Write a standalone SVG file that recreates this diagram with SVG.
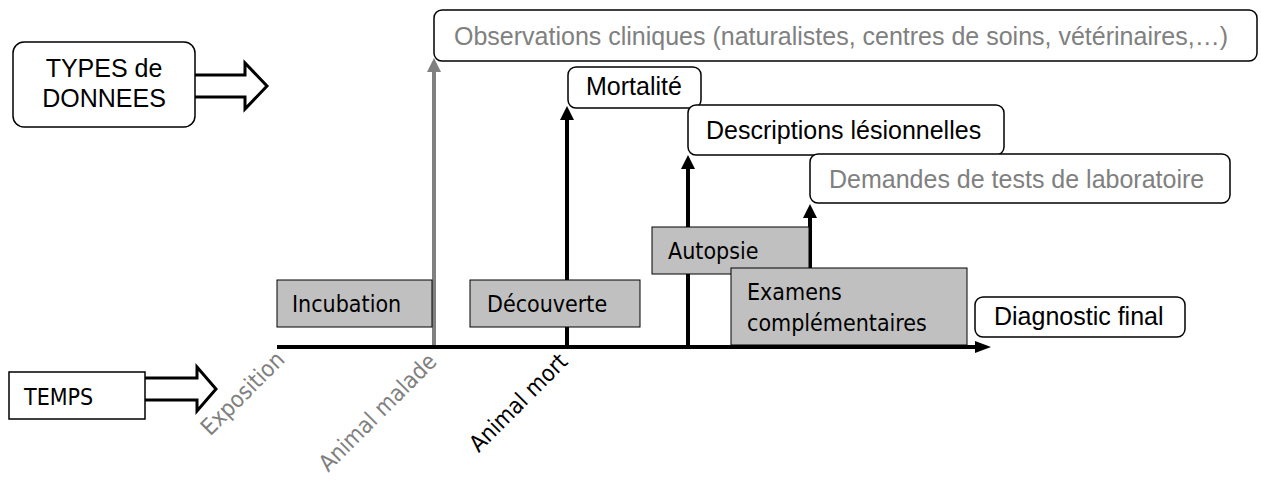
<svg xmlns="http://www.w3.org/2000/svg" width="1261" height="487" viewBox="0 0 1261 487">
<style>
.rbox{fill:#fff;stroke:#000;stroke-width:1.5}
.gbox{fill:#c0c0c0;stroke:#000;stroke-width:1}
.ta{font-family:"Liberation Sans",Arial,sans-serif;font-size:25px;fill:#000}
.tg{fill:#808080}
.td{font-family:"DejaVu Sans Condensed","DejaVu Sans",sans-serif;font-size:23px;fill:#000}
.rot{font-family:"DejaVu Sans Condensed","DejaVu Sans",sans-serif;font-size:23px;text-anchor:end}
.blk{stroke:#000;stroke-width:4;fill:none}
.gry{stroke:#808080;stroke-width:4;fill:none}
.barrow{fill:#fff;stroke:#000;stroke-width:3;stroke-linejoin:miter}
</style>
<rect width="1261" height="487" fill="#fff"/>
<g id="connectors">
  <line class="gry" x1="434" y1="346" x2="434" y2="70"/>
  <polygon points="427,72 434,58 441,72" fill="#808080"/>
  <line class="blk" x1="567" y1="346" x2="567" y2="118"/>
  <polygon points="560,120 567,106 574,120" fill="#000"/>
  <line class="blk" x1="688" y1="346" x2="688" y2="167"/>
  <polygon points="681,169 688,155 695,169" fill="#000"/>
  <line class="blk" x1="810" y1="268" x2="810" y2="216"/>
  <polygon points="803,218 810,204 817,218" fill="#000"/>
  <line class="blk" x1="277" y1="347" x2="977" y2="347"/>
  <polygon points="975,341 991,347 975,353" fill="#000"/>
  <polygon class="barrow" points="190,75 245,75 245,63 267,86 245,109 245,97 190,97"/>
  <polygon class="barrow" points="140,378 197,378 197,367 216,389 197,411 197,400 140,400"/>
</g>
<g id="types">
  <rect class="rbox" x="13" y="42" width="182" height="85" rx="11"/>
  <text class="ta" x="104" y="77" text-anchor="middle" font-size="24">TYPES de</text>
  <text class="ta" x="104" y="107" text-anchor="middle" font-size="24">DONNEES</text>
</g>
<g id="temps">
  <rect x="9" y="372" width="136" height="47" fill="#fff" stroke="#000" stroke-width="1.5"/>
  <text class="td" x="24" y="405">TEMPS</text>
</g>
<g id="observations">
  <rect class="rbox" x="434" y="10" width="823" height="51" rx="8"/>
  <text class="ta tg" x="454" y="45" font-size="25.4">Observations cliniques (naturalistes, centres de soins, vétérinaires,…)</text>
</g>
<g id="mortalite">
  <rect class="rbox" x="568" y="67" width="133" height="41" rx="8"/>
  <text class="ta" x="586" y="95">Mortalité</text>
</g>
<g id="descriptions">
  <rect class="rbox" x="688" y="105" width="316" height="50" rx="8"/>
  <text class="ta" x="706" y="139">Descriptions lésionnelles</text>
</g>
<g id="demandes">
  <rect class="rbox" x="810" y="154" width="420" height="49" rx="8"/>
  <text class="ta tg" x="829" y="188">Demandes de tests de laboratoire</text>
</g>
<g id="diagnostic">
  <rect class="rbox" x="975" y="297" width="210" height="40" rx="8"/>
  <text class="ta" x="994" y="325">Diagnostic final</text>
</g>
<g id="incubation">
  <rect class="gbox" x="277" y="280" width="155" height="47"/>
  <text class="td" x="292" y="312">Incubation</text>
</g>
<g id="decouverte">
  <rect class="gbox" x="470" y="280" width="170" height="47"/>
  <text class="td" x="487" y="312">Découverte</text>
</g>
<g id="autopsie">
  <rect class="gbox" x="652" y="227" width="157" height="47"/>
  <text class="td" x="668" y="259">Autopsie</text>
</g>
<g id="examens">
  <rect class="gbox" x="731" y="268" width="236" height="77"/>
  <text class="td" x="747" y="300">Examens</text>
  <text class="td" x="747" y="331">complémentaires</text>
</g>
<g id="labels">
  <text class="rot" fill="#808080" transform="translate(286,361) rotate(-45)">Exposition</text>
  <text class="rot" fill="#808080" transform="translate(438,363) rotate(-45)">Animal malade</text>
  <text class="rot" fill="#000" transform="translate(569,363) rotate(-45)">Animal mort</text>
</g>
</svg>
